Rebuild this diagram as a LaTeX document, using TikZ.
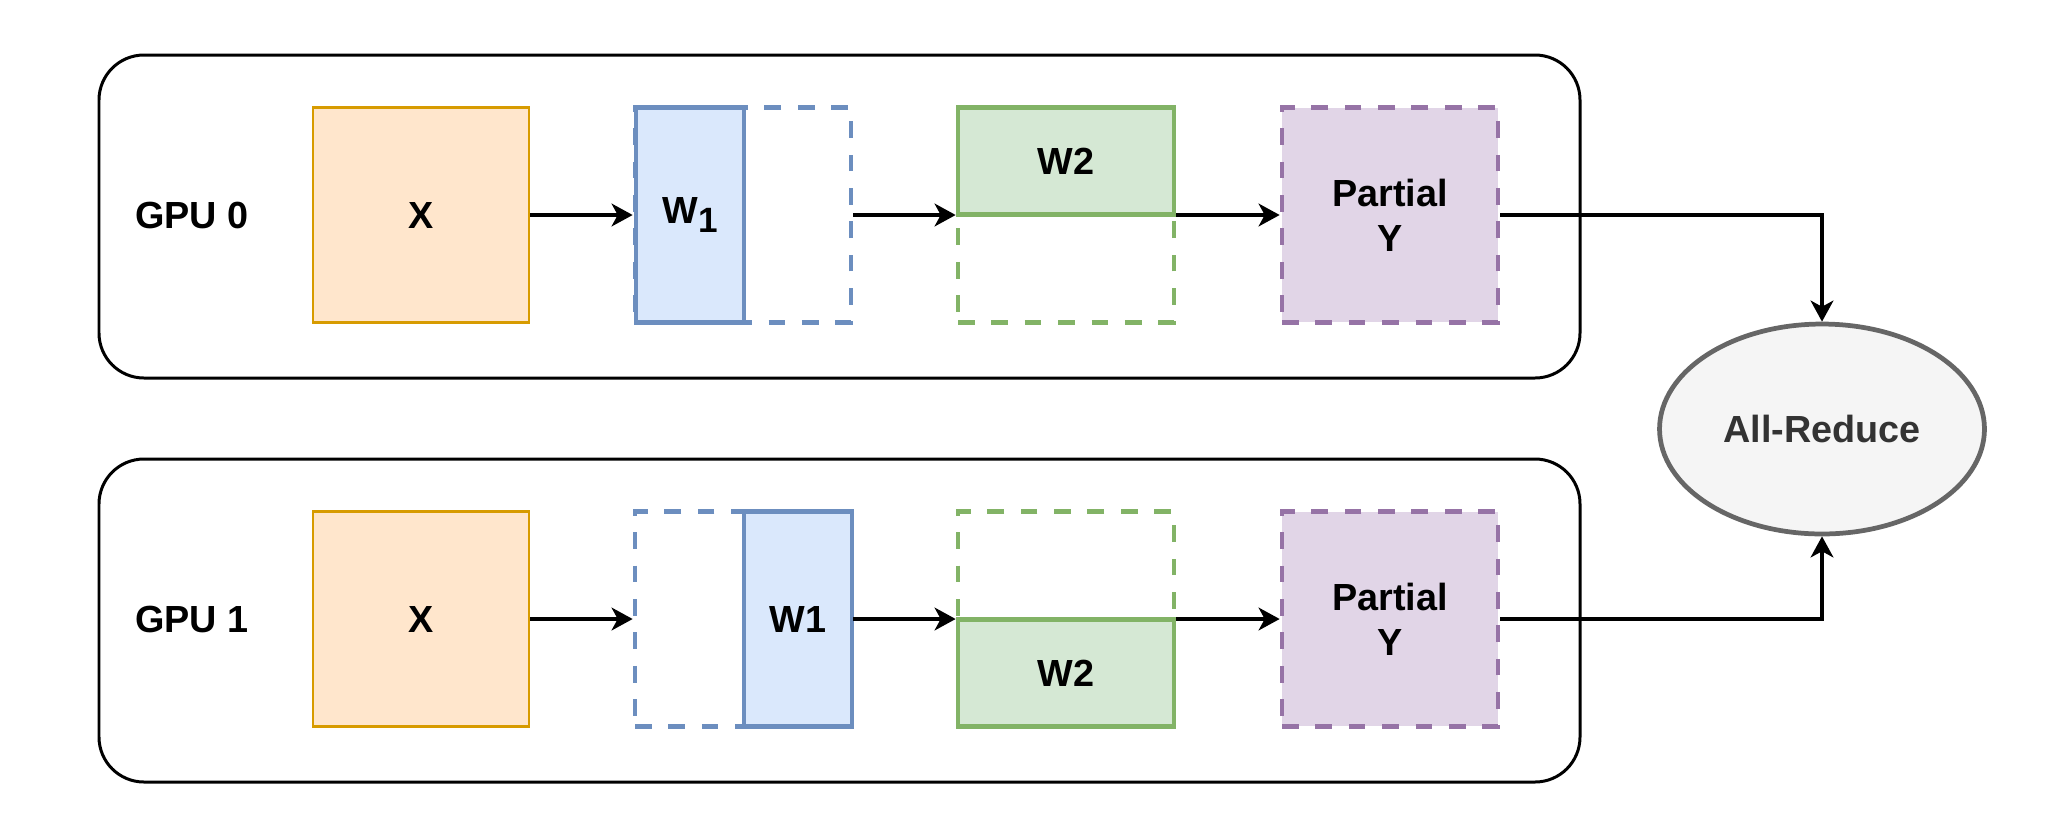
\documentclass[tikz,border=0pt]{standalone}
\usepackage{fontspec}
\setmainfont{Liberation Sans}
\usetikzlibrary{shapes.geometric,arrows.meta}
\definecolor{orfill}{HTML}{FFE6CC}\definecolor{ordraw}{HTML}{D79B00}
\definecolor{blfill}{HTML}{DAE8FC}\definecolor{bldraw}{HTML}{6C8EBF}
\definecolor{grfill}{HTML}{D5E8D4}\definecolor{grdraw}{HTML}{82B366}
\definecolor{pufill}{HTML}{E1D5E7}\definecolor{pudraw}{HTML}{9673A6}
\definecolor{gyfill}{HTML}{F5F5F5}\definecolor{gydraw}{HTML}{666666}
\definecolor{gytext}{HTML}{333333}
\tikzset{
  every node/.style={font=\fontsize{21.5pt}{25.5pt}\selectfont\bfseries, inner sep=0pt, align=center},
  gpubox/.style={draw=black, line width=1.7pt, rounded corners=0.9cm, fill=white},
  xbox/.style={draw=ordraw, fill=orfill, line width=1.6pt, minimum width=4.32cm, minimum height=4.3cm},
  wsolid/.style={line width=2.7pt},
  wdash/.style={line width=2.7pt, dash pattern=on 9.5pt off 9.5pt, fill=white},
  full/.style={minimum width=4.32cm, minimum height=4.3cm},
  narrow/.style={minimum width=2.16cm, minimum height=4.3cm},
  flat/.style={minimum width=4.32cm, minimum height=2.15cm},
  arr/.style={draw=black, line width=1.8pt, -{Stealth[length=12pt,width=13pt,inset=3.5pt]}},
  lbl/.style={}
}
\begin{document}
\begin{tikzpicture}[x=0.02cm,y=-0.02cm]
\useasboundingbox (0,0) rectangle (2045,833);
% containers
\draw[gpubox] (99,55) rectangle (1580,378);
\draw[gpubox] (99,459) rectangle (1580,782);
\node[lbl] (g0) at (192,215) {GPU 0};
\node[lbl] (g1) at (192,619) {GPU 1};
% row 0
\node[xbox] (x0) at (421,215) {X};
\node[wdash, draw=bldraw, full] (w1d0) at (743,215) {};
\node[wsolid, draw=bldraw, fill=blfill, narrow] (w1s0) at (690,215) {W\raisebox{-0.22em}{\fontsize{20pt}{23pt}\selectfont 1}};
\node[wdash, draw=grdraw, full] (w2d0) at (1066,215) {};
\node[wsolid, draw=grdraw, fill=grfill, flat] (w2s0) at (1066,161) {W2};
\node[wdash, draw=pudraw, fill=pufill, full] (py0) at (1390,215) {Partial\\Y};
% row 1
\node[xbox] (x1) at (421,619) {X};
\node[wdash, draw=bldraw, full] (w1d1) at (743,619) {};
\node[wsolid, draw=bldraw, fill=blfill, narrow] (w1s1) at (798,619) {W1};
\node[wdash, draw=grdraw, full] (w2d1) at (1066,619) {};
\node[wsolid, draw=grdraw, fill=grfill, flat] (w2s1) at (1066,673) {W2};
\node[wdash, draw=pudraw, fill=pufill, full] (py1) at (1390,619) {Partial\\Y};
% all-reduce
\node[ellipse, draw=gydraw, fill=gyfill, line width=2.7pt, text=gytext, minimum width=6.5cm, minimum height=4.2cm] (ar) at (1822,429) {All-Reduce};
% arrows
\draw[arr] (x0.east) -- (w1d0.west);
\draw[arr] (w1d0.east) -- (w2d0.west);
\draw[arr] (w2d0.east) -- (py0.west);
\draw[arr] (py0.east) -| (ar.north);
\draw[arr] (x1.east) -- (w1d1.west);
\draw[arr] (w1d1.east) -- (w2d1.west);
\draw[arr] (w2d1.east) -- (py1.west);
\draw[arr] (py1.east) -| (ar.south);
\end{tikzpicture}
\end{document}
